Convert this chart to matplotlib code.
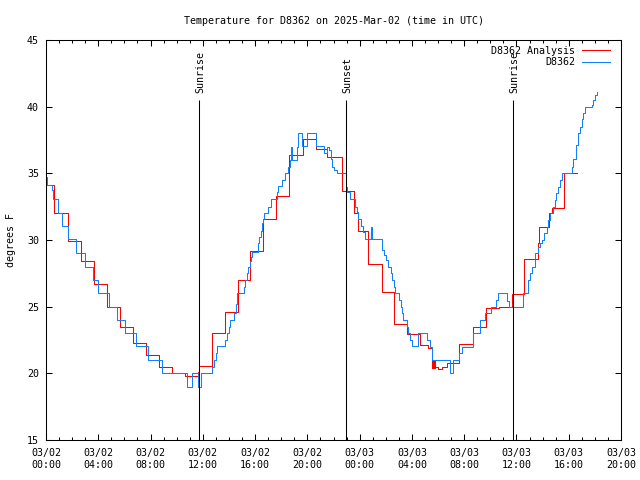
import matplotlib
matplotlib.use("Agg")
import matplotlib.pyplot as plt
from matplotlib.ticker import MultipleLocator

# hours after 2025-03-02 00:00 UTC
analysis_t = [0, 0.65, 1.65, 2.65, 3.65, 4.65, 5.65, 6.65, 7.65, 8.65, 9.65, 10.65,
              11.65, 11.7, 12.68, 13.7, 14.67, 15.6, 16.63, 17.57, 18.61, 19.64,
              20.66, 21.52, 22.62, 23.59, 23.87, 24.66, 25.68, 26.65, 27.6, 28.62,
              29.2, 29.51, 29.55, 29.6, 29.65, 29.7, 29.75, 29.8, 30.0, 30.3, 30.66,
              31.62, 32.65, 33.64, 34.68, 35.63, 36.6, 37.62, 37.74, 38.5, 38.69,
              39.65, 40.65]
analysis_v = [34.1, 32.0, 29.9, 28.45, 26.7, 25.0, 23.45, 22.25, 21.35, 20.45, 20.0, 19.8,
              20.1, 20.55, 23.0, 24.62, 27.0, 29.2, 31.55, 33.3, 36.4, 37.55,
              36.8, 36.2, 33.7, 32.0, 30.7, 28.2, 26.1, 23.7, 22.95, 22.1,
              21.9, 20.4, 21.0, 20.4, 21.0, 20.4, 21.0, 20.5, 20.35, 20.45, 20.75,
              22.2, 23.5, 24.9, 25.0, 25.95, 28.55, 29.75, 31.0, 32.05, 32.4,
              35.0, 35.0]

obs_t = [0, 0.1, 0.43, 0.56, 0.89, 0.94, 1.25, 1.71, 2.30, 2.98, 3.57, 4.0, 4.84, 5.46,
         6.04, 6.89, 7.83, 8.88, 10.77, 11.15, 11.65, 11.86, 12.72, 12.85, 12.98, 13.11,
         13.7, 13.83, 14.02, 14.08, 14.41, 14.51, 14.59, 15.13, 15.23, 15.36, 15.48,
         15.61, 15.68, 15.79, 16.2, 16.3, 16.45, 16.55, 16.63, 16.7, 17.01, 17.21,
         17.65, 17.77, 18.08, 18.3, 18.5, 18.67, 18.75, 18.8, 19.18, 19.31, 19.56,
         19.95, 20.63, 21.29, 21.48, 21.68, 21.78, 21.86, 22.04, 22.24, 22.95, 23.0,
         23.26, 23.64, 23.77, 23.9, 24.08, 24.28, 24.41, 24.84, 24.92, 25.73, 25.88,
         26.01, 26.19, 26.37, 26.45, 26.63, 26.7, 27.0, 27.14, 27.21, 27.29, 27.6,
         27.72, 27.85, 27.98, 28.49, 29.17, 29.38, 29.51, 30.91, 31.12, 31.62, 31.8,
         32.65, 33.21, 33.59, 34.05, 34.43, 34.6, 35.29, 35.45, 36.52, 36.9, 37.03,
         37.16, 37.41, 37.67, 37.8, 37.97, 38.13, 38.31, 38.43, 38.56, 38.77, 38.94,
         39.02, 39.2, 39.33, 39.5, 40.22, 40.34, 40.55, 40.68, 40.86, 40.99, 41.11,
         41.24, 41.75, 41.87, 42.0, 42.13]
obs_v = [34.75, 34.1, 33.75, 33.05, 32.5, 32.0, 31.05, 30.05, 29.0, 28.0, 27.0, 26.0, 25.0, 24.0,
         23.0, 22.05, 21.0, 20.0, 19.0, 20.0, 19.0, 20.0, 20.5, 21.0, 21.5, 22.05,
         22.5, 23.0, 23.5, 24.0, 24.55, 25.2, 26.0, 26.5, 27.0, 27.5, 28.0,
         28.4, 28.75, 29.1, 29.75, 30.25, 30.7, 31.25, 31.6, 32.0, 32.5, 33.05,
         33.6, 34.05, 34.5, 35.0, 35.5, 36.0, 37.0, 36.0, 37.0, 38.0, 37.05,
         38.0, 37.05, 36.5, 37.0, 36.75, 36.05, 35.5, 35.25, 35.0, 34.0, 33.6,
         33.05, 32.5, 32.1, 31.6, 31.05, 30.6, 30.05, 31.0, 30.05, 29.25, 28.9,
         28.5, 28.0, 27.5, 27.0, 26.5, 26.0, 25.5, 25.0, 24.5, 24.0, 23.5,
         23.0, 22.5, 22.05, 23.0, 22.5, 22.0, 21.0, 20.0, 21.0, 21.5, 22.0,
         23.0, 24.0, 24.5, 25.0, 25.5, 26.0, 25.4, 25.0, 26.0, 27.0, 27.5,
         28.0, 29.0, 29.5, 29.75, 30.0, 30.5, 31.0, 31.5, 32.0, 32.5, 33.0,
         33.5, 34.0, 34.5, 35.0, 35.5, 36.1, 37.1, 38.0, 38.5, 39.1, 39.5,
         39.95, 40.1, 40.5, 40.9, 41.1]

sun_t = [11.7, 22.95, 35.73]
sun_labels = ["Sunrise", "Sunset", "Sunrise"]

xtick_hours = list(range(0, 45, 4))
xtick_labels = ["03/02\n00:00", "03/02\n04:00", "03/02\n08:00", "03/02\n12:00",
                "03/02\n16:00", "03/02\n20:00", "03/03\n00:00", "03/03\n04:00",
                "03/03\n08:00", "03/03\n12:00", "03/03\n16:00", "03/03\n20:00"]

FONT = "DejaVu Sans Mono"
FS = 7.2
LW = 0.75

fig = plt.figure(figsize=(6.4, 4.8), dpi=100)
ax = fig.add_axes([46 / 640, 40 / 480, 575 / 640, 400 / 480])

ax.step(analysis_t, analysis_v, where="post", color="#ff0000", lw=LW,
        label="D8362 Analysis")
ax.step(obs_t, obs_v, where="post", color="#1080ff", lw=LW, label="D8362")

for t, lab in zip(sun_t, sun_labels):
    ax.vlines(t, 15, 40.5, color="black", lw=LW)
    ax.text(t + 0.1, 41.05, lab, rotation=90, ha="center", va="bottom",
            family=FONT, fontsize=FS)

ax.set_xlim(0, 44)
ax.set_ylim(15, 45)
ax.set_xticks(xtick_hours)
ax.set_xticklabels(xtick_labels, family=FONT, fontsize=FS)
ax.xaxis.set_minor_locator(MultipleLocator(1))
ax.set_yticks(range(15, 46, 5))
ax.set_yticklabels([str(v) for v in range(15, 46, 5)], family=FONT, fontsize=FS)
ax.tick_params(which="both", direction="in", top=True, right=True, width=LW)
ax.tick_params(which="major", length=4.5)
ax.tick_params(which="minor", length=2.2)
ax.tick_params(axis="x", which="major", pad=6)
ax.tick_params(axis="y", which="major", pad=5)
for s in ax.spines.values():
    s.set_linewidth(LW)

leg = ax.legend(loc="upper right", bbox_to_anchor=(0.981, 0.985), frameon=False,
                markerfirst=False, borderpad=0, borderaxespad=0,
                handlelength=2.8, handletextpad=0.7, labelspacing=0.12,
                prop={"family": FONT, "size": FS})

fig.text(333.5 / 640, 1 - 21 / 480, "Temperature for D8362 on 2025-Mar-02 (time in UTC)",
         ha="center", va="center", family=FONT, fontsize=FS)
fig.text(11 / 640, 0.5, "degrees F", rotation=90, ha="center", va="center",
         family=FONT, fontsize=FS)

fig.savefig("out.png", dpi=100)
